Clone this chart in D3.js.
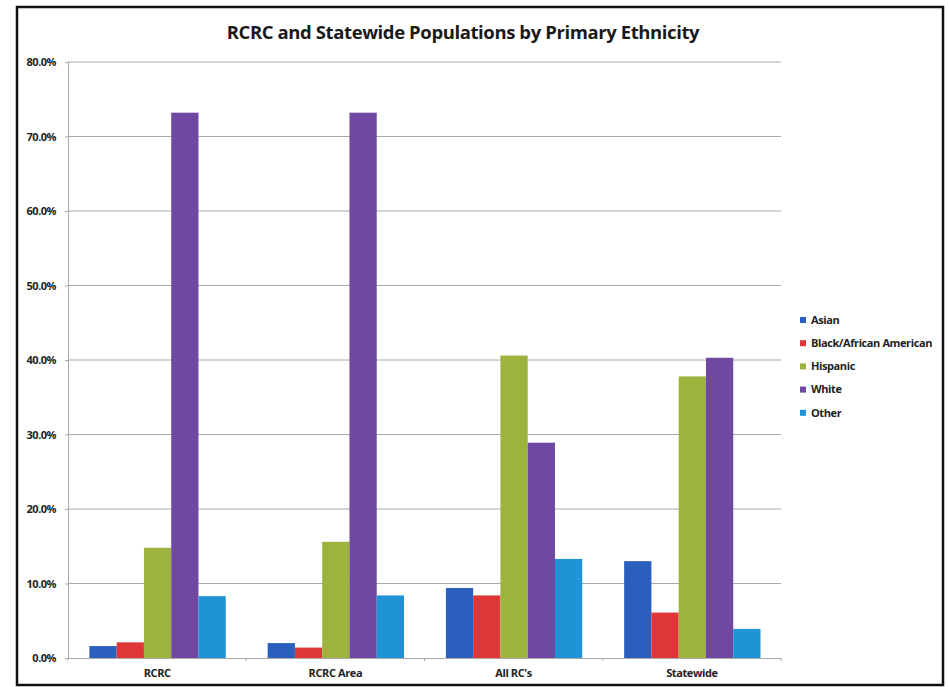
<!DOCTYPE html>
<html>
<head>
<meta charset="utf-8">
<script src="https://cdn.jsdelivr.net/npm/d3@7"></script>
<style>
  html, body { margin: 0; padding: 0; background: #fff; }
  svg { display: block; }
</style>
</head>
<body>
<svg id="chart" width="949" height="687"></svg>
<script>
const categories = ["RCRC", "RCRC Area", "All RC's", "Statewide"];
const seriesNames = ["Asian", "Black/African American", "Hispanic", "White", "Other"];
const asian    = [1.6, 2.0, 9.4, 13.0];
const black    = [2.1, 1.4, 8.4, 6.1];
const hispanic = [14.8, 15.6, 40.6, 37.8];
const white    = [73.2, 73.2, 28.9, 40.3];
const other    = [8.3, 8.4, 13.3, 3.9];
const yTicks = [0, 10, 20, 30, 40, 50, 60, 70, 80];
const colors = ["#2a5fbe", "#df3737", "#9cb43e", "#6f48a2", "#1f93d6"];

const seriesValues = [asian, black, hispanic, white, other];
const data = categories.map((c, i) => ({
  category: c,
  values: seriesNames.map((s, j) => ({ series: s, value: seriesValues[j][i] }))
}));

const svg = d3.select("#chart");
const font = "'Open Sans', 'Liberation Sans', sans-serif";

// outer frame
svg.append("rect")
  .attr("x", 17).attr("y", 7).attr("width", 926).attr("height", 678)
  .attr("fill", "#fff").attr("stroke", "#111").attr("stroke-width", 2.5);

const plot = { left: 68, right: 781, top: 62, bottom: 658 };

const x0 = d3.scaleBand().domain(categories).range([plot.left, plot.right]).padding(0);
const bw = x0.bandwidth();
const x1 = d3.scaleBand().domain(seriesNames).range([bw * 0.12, bw * 0.885]).padding(0);
const y = d3.scaleLinear().domain([0, 80]).range([plot.bottom, plot.top]);

// gridlines
svg.append("g")
  .selectAll("line").data(yTicks.filter(t => t > 0)).join("line")
  .attr("x1", plot.left).attr("x2", plot.right)
  .attr("y1", d => y(d)).attr("y2", d => y(d))
  .attr("stroke", "#a8a8a8").attr("stroke-width", 1);

// y axis
const yAxis = svg.append("g")
  .attr("transform", `translate(${plot.left},0)`)
  .call(d3.axisLeft(y).tickValues(yTicks).tickSize(3).tickPadding(9)
    .tickFormat(d => d.toFixed(1) + "%"));
yAxis.select(".domain").attr("stroke", "#a8a8a8");
yAxis.selectAll(".tick line").attr("stroke", "#a8a8a8");
yAxis.selectAll("text")
  .attr("font-family", font).attr("font-size", 11).attr("font-weight", "bold")
  .attr("fill", "#222").attr("letter-spacing", -0.5);

// bars
const groups = svg.append("g").selectAll("g").data(data).join("g")
  .attr("transform", d => `translate(${x0(d.category)},0)`);
groups.selectAll("rect").data(d => d.values).join("rect")
  .attr("x", d => x1(d.series))
  .attr("width", x1.bandwidth())
  .attr("y", d => y(d.value))
  .attr("height", d => y(0) - y(d.value))
  .attr("fill", (d, i) => colors[i]);

// x axis
const xAxis = svg.append("g")
  .attr("transform", `translate(0,${plot.bottom})`)
  .call(d3.axisBottom(x0).tickSize(0).tickPadding(11));
xAxis.select(".domain").attr("stroke", "#a8a8a8");
xAxis.selectAll("text")
  .attr("font-family", font).attr("font-size", 11).attr("font-weight", "bold")
  .attr("fill", "#222").attr("letter-spacing", -0.4);
// small tick marks between categories
svg.append("g").selectAll("line").data(categories.concat(["end"])).join("line")
  .attr("x1", (d, i) => plot.left + i * bw).attr("x2", (d, i) => plot.left + i * bw)
  .attr("y1", plot.bottom).attr("y2", plot.bottom + 3)
  .attr("stroke", "#a8a8a8");

// title
svg.append("text")
  .attr("x", 463).attr("y", 39)
  .attr("text-anchor", "middle")
  .attr("font-family", font).attr("font-size", 18.5).attr("font-weight", "bold")
  .attr("fill", "#1a1a1a").attr("letter-spacing", -0.4)
  .text("RCRC and Statewide Populations by Primary Ethnicity");

// legend
const legend = svg.append("g").attr("transform", "translate(800,320)");
const li = legend.selectAll("g").data(seriesNames).join("g")
  .attr("transform", (d, i) => `translate(0,${i * 23.2})`);
li.append("rect").attr("x", 0).attr("y", -3).attr("width", 6).attr("height", 6)
  .attr("fill", (d, i) => colors[i]);
li.append("text").attr("x", 11).attr("y", 0).attr("dy", "0.35em")
  .attr("font-family", font).attr("font-size", 11).attr("font-weight", "bold")
  .attr("fill", "#222").attr("letter-spacing", -0.4)
  .text(d => d);
</script>
</body>
</html>
